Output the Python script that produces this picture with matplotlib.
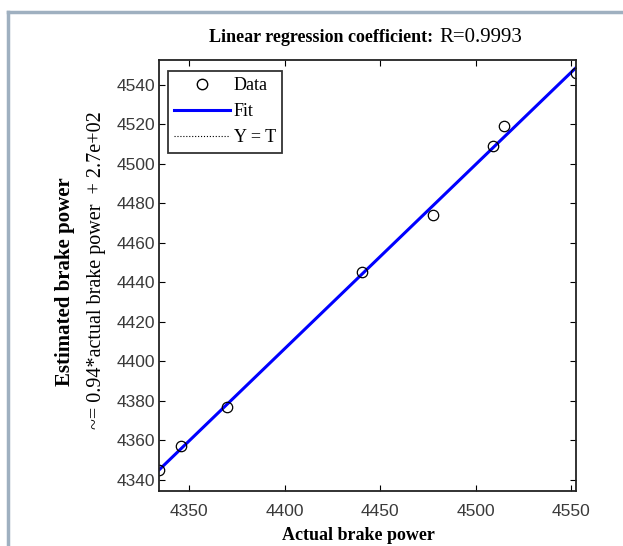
import numpy as np
import matplotlib
matplotlib.use('Agg')
import matplotlib.pyplot as plt
from matplotlib.lines import Line2D

# actual vs estimated brake power
actual = [4334.3, 4345.8, 4370.0, 4440.5, 4477.9, 4509.0, 4514.7, 4552.6]
estimated = [4345.0, 4357.0, 4376.7, 4445.0, 4474.2, 4508.8, 4519.4, 4546.0]
x_ticks = [4350, 4400, 4450, 4500, 4550]
y_ticks = [4340, 4360, 4380, 4400, 4420, 4440, 4460, 4480, 4500, 4520, 4540]

serif = 'Liberation Serif'
sans = 'Liberation Sans'

fig = plt.figure(figsize=(6.23, 5.46), dpi=100)
W, H = 623, 546
ax = fig.add_axes([159/W, 1 - 491/H, (576-159)/W, (491-60)/H])

lo = min(actual)
hi = max(actual)
xs = np.array([lo, hi])

# fit and data (the Y = T line is hidden under the fit in the original)
coef = np.polyfit(actual, estimated, 1)
ax.plot(xs, np.polyval(coef, xs), '-', color='#0000ff', lw=2.2)
ax.plot(actual, estimated, 'o', mfc='none', mec='black', ms=7.5, mew=0.9)

ax.set_xlim(lo, hi)
ax.set_ylim(lo, hi)
ax.set_xticks(x_ticks)
ax.set_yticks(y_ticks)
ax.tick_params(direction='in', top=True, right=True, length=4, width=0.8,
               labelsize=12.5, colors='black')
ax.tick_params(axis='x', pad=9)
ax.tick_params(axis='y', pad=3)
for lab in ax.get_xticklabels() + ax.get_yticklabels():
    lab.set_family(sans)
    lab.set_color('#3a3a3a')
for s in ax.spines.values():
    s.set_linewidth(1.3)
    s.set_color('#222222')

# legend
handles = [
    Line2D([], [], ls='none', marker='o', mfc='none', mec='black', ms=7.5),
    Line2D([], [], color='#0000ff', lw=2.2),
    Line2D([], [], color='black', ls=':', lw=0.8),
]
leg = ax.legend(handles, ['Data', 'Fit', 'Y = T'], loc='upper left',
                bbox_to_anchor=(168/W, 1 - 71/H), bbox_transform=fig.transFigure,
                prop={'family': serif, 'size': 13}, fancybox=False,
                edgecolor='#333333', framealpha=1, borderpad=0.35,
                handlelength=3.1, handletextpad=0.2, labelspacing=0.5,
                borderaxespad=0)
leg.get_frame().set_linewidth(1.3)

# titles and labels
fig.text(438/W, 1 - 38/H, 'Linear regression coefficient: ', ha='right', va='center',
         family=serif, fontsize=13, fontweight='bold')
fig.text(439/W, 1 - 38/H, 'R=0.9993', ha='left', va='center',
         family=serif, fontsize=15)
fig.text(358/W, 1 - 536/H, 'Actual brake power', ha='center', va='center',
         family=serif, fontsize=13, fontweight='bold')
fig.text(65/W, 1 - 282/H, 'Estimated brake power', ha='center', va='center',
         rotation=90, family=serif, fontsize=15, fontweight='bold')
fig.text(97/W, 1 - 270/H, '~= 0.94*actual brake power  + 2.7e+02', ha='center',
         va='center', rotation=90, family=serif, fontsize=14.5)

# gray screenshot frame
frame_color = '#9fb0c0'
fig.add_artist(Line2D([8/W, 1], [1 - 12/H, 1 - 12/H], color=frame_color, lw=2.5,
                      transform=fig.transFigure))
fig.add_artist(Line2D([8/W, 8/W], [0, 1 - 12/H], color=frame_color, lw=2.5,
                      transform=fig.transFigure))

fig.savefig('out.png', dpi=100)
